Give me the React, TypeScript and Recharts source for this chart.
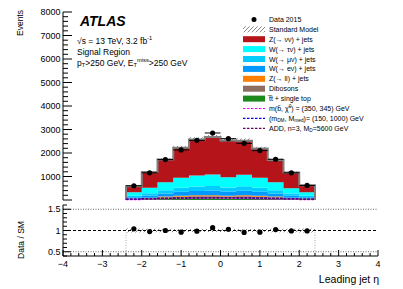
import React from 'react';
import { Area, ComposedChart, ErrorBar, Line, ReferenceLine, Scatter, XAxis, YAxis } from 'recharts';

// leading jet eta, 12 bins of 0.4
const BIN_EDGES = [-2.4, -2.0, -1.6, -1.2, -0.8, -0.4, 0, 0.4, 0.8, 1.2, 1.6, 2.0, 2.4];
const BIN_CENTERS = [-2.2, -1.8, -1.4, -1.0, -0.6, -0.2, 0.2, 0.6, 1.0, 1.4, 1.8, 2.2];

const DATA_2015 = [606, 1157, 1720, 2131, 2538, 2852, 2610, 2411, 2102, 1733, 1157, 619];
const Z_NUNU = [253, 666, 962, 1275, 1535, 1593, 1564, 1453, 1245, 941, 665, 295];
const W_TAUNU = [149, 234, 341, 425, 469, 488, 437, 482, 425, 341, 227, 149];
const W_MUNU = [59, 94, 136, 170, 188, 195, 175, 193, 170, 136, 91, 59];
const W_ENU = [59, 94, 136, 170, 188, 195, 175, 193, 170, 136, 91, 59];
const Z_LL = [13, 21, 30, 38, 42, 43, 39, 43, 38, 30, 20, 13];
const DIBOSONS = [27, 42, 61, 76, 83, 87, 78, 86, 76, 61, 40, 27];
const TOP = [23, 36, 53, 66, 73, 76, 68, 75, 66, 53, 35, 23];
const SM_REL_UNC = [0.045, 0.04, 0.04, 0.035, 0.035, 0.035, 0.035, 0.035, 0.035, 0.04, 0.04, 0.045];

const SIG_SBOTTOM = [20, 35, 50, 60, 70, 75, 75, 70, 60, 50, 35, 20];
const SIG_DM = [40, 55, 70, 80, 90, 95, 95, 90, 80, 70, 55, 40];
const SIG_ADD = [35, 50, 65, 78, 88, 92, 92, 88, 78, 65, 50, 35];

const X_MAJOR = [-4, -3, -2, -1, 0, 1, 2, 3, 4];
const Y_MAJOR = [0, 1000, 2000, 3000, 4000, 5000, 6000, 7000, 8000];
const R_MAJOR = [0.5, 1, 1.5];

const FONT = '"Liberation Sans", Arial, Helvetica, sans-serif';

const COLORS = {
  znunu: '#b5141a',
  wtaunu: '#00ffff',
  wmunu: '#00ccff',
  wenu: '#0099ff',
  zll: '#ff7f00',
  vv: '#8c6d5f',
  top: '#1b8a1b',
  sb: '#ff00ff',
  dm: '#0000ff',
  add: '#660066',
};

// bottom -> top of the stack
const STACK: { key: string; vals: number[]; color: string }[] = [
  { key: 'top', vals: TOP, color: COLORS.top },
  { key: 'vv', vals: DIBOSONS, color: COLORS.vv },
  { key: 'zll', vals: Z_LL, color: COLORS.zll },
  { key: 'wenu', vals: W_ENU, color: COLORS.wenu },
  { key: 'wmunu', vals: W_MUNU, color: COLORS.wmunu },
  { key: 'wtaunu', vals: W_TAUNU, color: COLORS.wtaunu },
  { key: 'znunu', vals: Z_NUNU, color: COLORS.znunu },
];

const SM_TOTAL = BIN_CENTERS.map((_, i) => STACK.reduce((s, c) => s + c.vals[i], 0));
const RATIO = DATA_2015.map((d, i) => d / SM_TOTAL[i]);

function steps(from: number, to: number, step: number) {
  const out: number[] = [];
  const n = Math.round((to - from) / step);
  for (let i = 0; i <= n; i++) out.push(Math.round((from + i * step) * 1000) / 1000);
  return out;
}
const X_TICKS = steps(X_MAJOR[0], X_MAJOR[X_MAJOR.length - 1], 0.2);
const Y_TICKS = steps(Y_MAJOR[0], Y_MAJOR[Y_MAJOR.length - 1], 200);
const R_TICKS = steps(0.4, 1.6, 0.1);

// histogram rows at bin edges (step-after), closed down to zero at both ends
function binRow(i: number, j: number) {
  const r: any = { x: BIN_EDGES[i] };
  STACK.forEach((c) => (r[c.key] = c.vals[j]));
  r.total = SM_TOTAL[j];
  r.band = [SM_TOTAL[j] * (1 - SM_REL_UNC[j]), SM_TOTAL[j] * (1 + SM_REL_UNC[j])];
  r.sb = SIG_SBOTTOM[j];
  r.dm = SIG_DM[j];
  r.add = SIG_ADD[j];
  r.rband = [1 - SM_REL_UNC[j], 1 + SM_REL_UNC[j]];
  return r;
}
function zeroRow(x: number) {
  const r: any = { x, total: 0, band: [0, 0], sb: null, dm: null, add: null };
  STACK.forEach((c) => (r[c.key] = 0));
  return r;
}
const last = BIN_CENTERS.length - 1;
const HIST_ROWS = [
  zeroRow(BIN_EDGES[0]),
  ...BIN_CENTERS.map((_, i) => binRow(i, i)),
  binRow(last + 1, last),
  zeroRow(BIN_EDGES[last + 1]),
];
const RATIO_ROWS = [...BIN_CENTERS.map((_, i) => binRow(i, i)), binRow(last + 1, last)];

const DATA_POINTS = BIN_CENTERS.map((x, i) => ({ x, y: DATA_2015[i], ex: 0.2 }));
const RATIO_POINTS = BIN_CENTERS.map((x, i) => ({ x, y: RATIO[i] }));

type Orient = 'left' | 'right' | 'top' | 'bottom';
const makeTick =
  (o: Orient, major: number, lMaj: number, lMin: number, fmt?: (v: number) => string | null) =>
  (p: any) => {
    const x = Number(p.x);
    const y = Number(p.y);
    const v = Number(p.payload?.value);
    const isMaj = Math.abs(v / major - Math.round(v / major)) < 1e-6;
    const len = isMaj ? lMaj : lMin;
    const end =
      o === 'left' ? [x + len, y] : o === 'right' ? [x - len, y] : o === 'top' ? [x, y + len] : [x, y - len];
    const lab = isMaj && fmt ? fmt(v) : null;
    return (
      <g>
        <line x1={x} y1={y} x2={end[0]} y2={end[1]} stroke="#000" strokeWidth={1} />
        {lab !== null &&
          (o === 'left' ? (
            <text x={x - 2.5} y={y + 3.2} textAnchor="end" fontSize={9} fontFamily={FONT} fill="#000">
              {lab}
            </text>
          ) : (
            <text x={x} y={y + 11} textAnchor="middle" fontSize={9} fontFamily={FONT} fill="#000">
              {lab}
            </text>
          ))}
      </g>
    );
  };

const fmtX = (v: number) => (v < 0 ? '\u2212' + Math.abs(v) : String(v));
const fmtY = (v: number) => (v === 0 ? null : String(v));
const fmtR = (v: number) => String(v);

const axisLine = { stroke: '#000', strokeWidth: 1 };

function Hatch({ id }: { id: string }) {
  return (
    <defs>
      <pattern id={id} width="4" height="4" patternUnits="userSpaceOnUse">
        <path d="M-1,1 l2,-2 M0,4 l4,-4 M3,5 l2,-2" stroke="#555" strokeWidth="0.7" />
      </pattern>
    </defs>
  );
}

function MainPanel() {
  return (
    <ComposedChart width={403} height={205} data={HIST_ROWS} margin={{ top: 12, right: 25, bottom: 5, left: 0 }}>
      <Hatch id="hatchSM" />
      <XAxis xAxisId="b" dataKey="x" type="number" domain={[-4, 4]} ticks={X_TICKS} interval={0} height={0}
        axisLine={axisLine} tickLine={false} tickSize={0} tickMargin={0} tick={makeTick('bottom', 1, 7, 4)} />
      <XAxis xAxisId="t" orientation="top" type="number" domain={[-4, 4]} ticks={X_TICKS} interval={0} height={0}
        axisLine={axisLine} tickLine={false} tickSize={0} tickMargin={0} tick={makeTick('top', 1, 7, 4)} />
      <YAxis yAxisId="l" type="number" domain={[0, 8000]} ticks={Y_TICKS} interval={0} width={63}
        axisLine={axisLine} tickLine={false} tickSize={0} tickMargin={0} tick={makeTick('left', 1000, 9, 5, fmtY)} />
      <YAxis yAxisId="r" orientation="right" type="number" domain={[0, 8000]} ticks={Y_TICKS} interval={0} width={0}
        axisLine={axisLine} tickLine={false} tickSize={0} tickMargin={0} tick={makeTick('right', 1000, 9, 5)} />
      {STACK.map((c) => (
        <Area key={c.key} xAxisId="b" yAxisId="l" dataKey={c.key} stackId="sm" type="stepAfter" stroke="none"
          fill={c.color} fillOpacity={1} dot={false} activeDot={false} isAnimationActive={false} />
      ))}
      <Area xAxisId="b" yAxisId="l" dataKey="band" type="stepAfter" stroke="none" fill="url(#hatchSM)"
        fillOpacity={1} dot={false} activeDot={false} isAnimationActive={false} />
      <Line xAxisId="b" yAxisId="l" dataKey="total" type="stepAfter" stroke="#808080" strokeWidth={2}
        dot={false} activeDot={false} isAnimationActive={false} />
      <Line xAxisId="b" yAxisId="l" dataKey="sb" type="stepAfter" stroke={COLORS.sb} strokeWidth={1.2}
        strokeDasharray="2.5 1.5" dot={false} activeDot={false} isAnimationActive={false} />
      <Line xAxisId="b" yAxisId="l" dataKey="dm" type="stepAfter" stroke={COLORS.dm} strokeWidth={1.2}
        strokeDasharray="2.5 1.5" dot={false} activeDot={false} isAnimationActive={false} />
      <Line xAxisId="b" yAxisId="l" dataKey="add" type="stepAfter" stroke={COLORS.add} strokeWidth={1.2}
        strokeDasharray="2.5 1.5" dot={false} activeDot={false} isAnimationActive={false} />
      <Scatter xAxisId="b" yAxisId="l" data={DATA_POINTS} dataKey="y" isAnimationActive={false}
        shape={(p: any) => <circle cx={p.cx} cy={p.cy} r={2.6} fill="#000" />}>
        <ErrorBar dataKey="ex" direction="x" width={0} stroke="#000" strokeWidth={1} />
      </Scatter>
    </ComposedChart>
  );
}

function RatioPanel() {
  return (
    <ComposedChart width={403} height={89} data={RATIO_ROWS} margin={{ top: 5, right: 25, bottom: 0, left: 0 }}>
      <Hatch id="hatchR" />
      <XAxis xAxisId="b" dataKey="x" type="number" domain={[-4, 4]} ticks={X_TICKS} interval={0} height={33}
        axisLine={axisLine} tickLine={false} tickSize={0} tickMargin={0} tick={makeTick('bottom', 1, 6, 3, fmtX)} />
      <XAxis xAxisId="t" orientation="top" type="number" domain={[-4, 4]} ticks={X_TICKS} interval={0} height={0}
        axisLine={axisLine} tickLine={false} tickSize={0} tickMargin={0} tick={makeTick('top', 1, 6, 3)} />
      <YAxis yAxisId="l" type="number" domain={[0.4, 1.6]} ticks={R_TICKS} interval={0} width={63}
        axisLine={axisLine} tickLine={false} tickSize={0} tickMargin={0} tick={makeTick('left', 0.5, 8, 4, fmtR)} />
      <YAxis yAxisId="r" orientation="right" type="number" domain={[0.4, 1.6]} ticks={R_TICKS} interval={0} width={0}
        axisLine={axisLine} tickLine={false} tickSize={0} tickMargin={0} tick={makeTick('right', 0.5, 8, 4)} />
      {R_MAJOR.filter((v) => v !== 1).map((v) => (
        <ReferenceLine key={v} xAxisId="b" yAxisId="l" y={v} stroke="#666" strokeDasharray="1 1.5" />
      ))}
      <ReferenceLine xAxisId="b" yAxisId="l" segment={[{ x: BIN_EDGES[0], y: 0.4 }, { x: BIN_EDGES[0], y: 0.97 }]}
        stroke="#aaa" strokeDasharray="1 1.5" />
      <ReferenceLine xAxisId="b" yAxisId="l"
        segment={[{ x: BIN_EDGES[BIN_EDGES.length - 1], y: 0.4 }, { x: BIN_EDGES[BIN_EDGES.length - 1], y: 0.97 }]}
        stroke="#aaa" strokeDasharray="1 1.5" />
      <Area xAxisId="b" yAxisId="l" dataKey="rband" type="stepAfter" stroke="none" fill="url(#hatchR)"
        fillOpacity={1} dot={false} activeDot={false} isAnimationActive={false} />
      <ReferenceLine xAxisId="b" yAxisId="l" y={1} stroke="#000" strokeDasharray="3 2" />
      <Scatter xAxisId="b" yAxisId="l" data={RATIO_POINTS} dataKey="y" isAnimationActive={false}
        shape={(p: any) => <circle cx={p.cx} cy={p.cy} r={2.6} fill="#000" />} />
    </ComposedChart>
  );
}

// text pieces: plain, subscript or superscript
type Seg = { t: string; s?: 'sub' | 'sup' };
function Rich({ x, y, size, segs }: { x: number; y: number; size: number; segs: Seg[] }) {
  let shift = 0;
  return (
    <text x={x} y={y} fontSize={size} fill="#000">
      {segs.map((g, i) => {
        const target = g.s === 'sub' ? size * 0.22 : g.s === 'sup' ? -size * 0.38 : 0;
        const dy = target - shift;
        shift = target;
        return (
          <tspan key={i} dy={dy} fontSize={g.s ? size * 0.68 : size}>
            {g.t}
          </tspan>
        );
      })}
    </text>
  );
}

type LegendItem = { kind: 'dot' | 'hatch' | 'fill' | 'dash'; color?: string; segs: Seg[] };
const LEGEND: LegendItem[] = [
  { kind: 'dot', segs: [{ t: 'Data 2015' }] },
  { kind: 'hatch', segs: [{ t: 'Standard Model' }] },
  { kind: 'fill', color: COLORS.znunu, segs: [{ t: 'Z(\u2192 \u03bd\u03bd) + jets' }] },
  { kind: 'fill', color: COLORS.wtaunu, segs: [{ t: 'W(\u2192 \u03c4\u03bd) + jets' }] },
  { kind: 'fill', color: COLORS.wmunu, segs: [{ t: 'W(\u2192 \u03bc\u03bd) + jets' }] },
  { kind: 'fill', color: COLORS.wenu, segs: [{ t: 'W(\u2192 e\u03bd) + jets' }] },
  { kind: 'fill', color: COLORS.zll, segs: [{ t: 'Z(\u2192 ll) + jets' }] },
  { kind: 'fill', color: COLORS.vv, segs: [{ t: 'Dibosons' }] },
  { kind: 'fill', color: COLORS.top, segs: [{ t: 't\u0305t + single top' }] },
  {
    kind: 'dash',
    color: COLORS.sb,
    segs: [{ t: 'm(b\u0303, \u03c7\u0303' }, { t: '0', s: 'sup' }, { t: ') = (350, 345) GeV' }],
  },
  {
    kind: 'dash',
    color: COLORS.dm,
    segs: [{ t: '(m' }, { t: 'DM', s: 'sub' }, { t: ', M' }, { t: 'med', s: 'sub' }, { t: ')= (150, 1000) GeV' }],
  },
  {
    kind: 'dash',
    color: COLORS.add,
    segs: [{ t: 'ADD, n=3, M' }, { t: 'D', s: 'sub' }, { t: '=5600 GeV' }],
  },
];

function Overlay() {
  return (
    <svg width={403} height={289} style={{ position: 'absolute', left: 0, top: 0, pointerEvents: 'none' }}
      fontFamily={FONT}>
      <Hatch id="hatchLeg" />
      <text x={80} y={26} fontSize={14} fontWeight="bold" fontStyle="italic">ATLAS</text>
      <Rich x={77} y={43.5} size={8.5} segs={[{ t: '\u221as = 13 TeV, 3.2 fb' }, { t: '-1', s: 'sup' }]} />
      <text x={77} y={55} fontSize={8.5}>Signal Region</text>
      <Rich x={77} y={65.5} size={8.5}
        segs={[{ t: 'p' }, { t: 'T', s: 'sub' }, { t: '>250 GeV, E' }, { t: 'T', s: 'sub' }, { t: 'miss', s: 'sup' }, { t: '>250 GeV' }]} />
      {LEGEND.map((it, i) => {
        const cy = 19.4 + 9.9 * i;
        return (
          <g key={i}>
            {it.kind === 'dot' && <circle cx={254} cy={cy} r={2.5} fill="#000" />}
            {it.kind === 'hatch' && <rect x={243} y={cy - 3} width={22} height={6} fill="url(#hatchLeg)" />}
            {it.kind === 'fill' && <rect x={243} y={cy - 3} width={22} height={6} fill={it.color} />}
            {it.kind === 'dash' && (
              <line x1={243} y1={cy} x2={265} y2={cy} stroke={it.color} strokeWidth={1.2} strokeDasharray="2.5 1.5" />
            )}
            <Rich x={269} y={cy + 2.5} size={7} segs={it.segs} />
          </g>
        );
      })}
      <text transform="translate(23,10) rotate(-90)" textAnchor="end" fontSize={8.5}>Events</text>
      <text transform="translate(24,240) rotate(-90)" textAnchor="middle" fontSize={8.5}>Data / SM</text>
      <text x={379} y={283} textAnchor="end" fontSize={10.5}>Leading jet {'\u03b7'}</text>
    </svg>
  );
}

export default function App() {
  return (
    <div style={{ position: 'absolute', left: 0, top: 0, width: 403, height: 289, background: '#fff', fontFamily: FONT }}>
      <div style={{ position: 'absolute', left: 0, top: 0 }}>
        <MainPanel />
      </div>
      <div style={{ position: 'absolute', left: 0, top: 200 }}>
        <RatioPanel />
      </div>
      <Overlay />
    </div>
  );
}
